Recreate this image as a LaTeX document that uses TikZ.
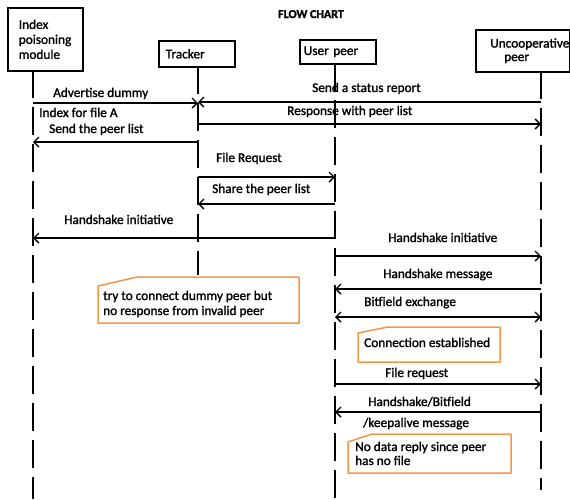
\documentclass[tikz,border=0pt]{standalone}
\usepackage{fontspec}
\setmainfont{Carlito}[FakeBold=1.5]
\usetikzlibrary{arrows.meta}
\definecolor{noteorange}{RGB}{247,150,70}
\begin{document}
\begin{tikzpicture}[x=1pt,y=-1pt,
  txt/.style={inner sep=0pt, anchor=base west, font=\fontsize{13.3}{15}\selectfont},
  notetxt/.style={inner sep=0pt, anchor=base west, align=left, font=\fontsize{13.3}{15}\selectfont},
  actor/.style={draw, line width=1.6pt, align=left, font=\fontsize{13.3}{15}\selectfont, inner ysep=0pt, anchor=north west},
  life/.style={line width=1.8pt, dash pattern=on 28pt off 9pt},
  msg/.style={line width=1.4pt, -{Straight Barb[length=5pt,width=10pt]}},
  msgboth/.style={line width=1.4pt, {Straight Barb[length=5pt,width=10pt]}-{Straight Barb[length=5pt,width=10pt]}},
  note/.style={draw=noteorange, line width=1.5pt, line join=round, fill=white},
]
\useasboundingbox (0,0) rectangle (570,499);

% title
\node[inner sep=0pt, anchor=base, font=\fontsize{12}{14}\selectfont\bfseries] (title) at (311,18) {FLOW CHART};

% actors
\node[actor, minimum width=75pt, minimum height=63pt, inner xsep=11pt, text width=53pt] (idx) at (7,7) {Index\\poisoning\\module};
\node[actor, minimum width=76pt, minimum height=26pt, inner xsep=7pt, text width=62pt] (trk) at (158,40) {Tracker};
\node[actor, minimum width=76pt, minimum height=24pt, inner xsep=4pt, text width=68pt] (usr) at (299,39) {User peer};
\node[actor, minimum width=94pt, minimum height=42pt, inner xsep=0pt, font=\fontsize{13.3}{13.5}\selectfont] (unc) at (475,29) {\hspace*{14pt}Uncooperative\\\hspace*{28pt}peer};

% lifelines
\coordinate (L1) at (33,70);
\coordinate (L2) at (198,66);
\coordinate (L3) at (335,63);
\coordinate (L4) at (541,71);
\coordinate (E1) at (33,499);
\coordinate (E2) at (198,275);
\coordinate (E3) at (335,499);
\coordinate (E4) at (541,490);
\draw[life] (L1) -- (E1);
\draw[life] (L2) -- (E2);
\draw[life] (L3) -- (E3);
\draw[life] (L4) -- (E4);

% messages
\draw[msg] (L1 |- 0,103) -- (L2 |- 0,103);
\draw[msg] (L4 |- 0,102) -- (L2 |- 0,102);
\draw[msg] (L2 |- 0,124) -- (L4 |- 0,124);
\draw[msg] (L2 |- 0,142) -- (L1 |- 0,142);
\draw[msg] (L2 |- 0,177) -- (L3 |- 0,177);
\draw[msg] (L3 |- 0,204) -- (L2 |- 0,204);
\draw[msg] (L3 |- 0,238) -- (L1 |- 0,238);
\draw[msg] (L3 |- 0,256) -- (L4 |- 0,256);
\draw[msg] (L4 |- 0,289) -- (L3 |- 0,289);
\draw[msgboth] (L3 |- 0,317) -- (L4 |- 0,317);
\draw[msg] (L3 |- 0,384) -- (L4 |- 0,384);
\draw[msg] (L4 |- 0,412) -- (L3 |- 0,412);

% message labels
\node[txt] (t1) at (53,97) {Advertise dummy};
\node[txt] (t2) at (39,117) {Index for file A};
\node[txt] (t3) at (49,133) {Send the peer list};
\node[txt] (t4) at (312,92) {Send a status report};
\node[txt] (t5) at (287,115) {Response with peer list};
\node[txt] (t6) at (216,162) {File Request};
\node[txt] (t7) at (212,193) {Share the peer list};
\node[txt] (t8) at (64,224) {Handshake initiative};
\node[txt] (t9) at (388,242) {Handshake initiative};
\node[txt] (t10) at (383,278) {Handshake message};
\node[txt] (t11) at (364,306) {Bitfield exchange};
\node[txt] (t12) at (385,377) {File request};
\node[txt] (t13) at (368,406) {Handshake/Bitfield};
\node[txt] (t14) at (363,427) {/keepalive message};

% notes
\draw[note] (98,286) -- (137,277) -- (299,277) -- (299,323) -- (98,323) -- cycle;
\node[notetxt] (n1) at (103,315) {try to connect dummy peer but\\no response from invalid peer};
\draw[note] (358,333) -- (388,327) -- (500,327) -- (500,362) -- (358,362) -- cycle;
\node[notetxt] (n2) at (364,347) {Connection established};
\draw[note] (348,442) -- (372,434) -- (511,434) -- (511,473) -- (348,473) -- cycle;
\node[notetxt, font=\fontsize{13.3}{14}\selectfont] (n3) at (355,465) {No data reply since peer\\has no file};
\end{tikzpicture}
\end{document}
